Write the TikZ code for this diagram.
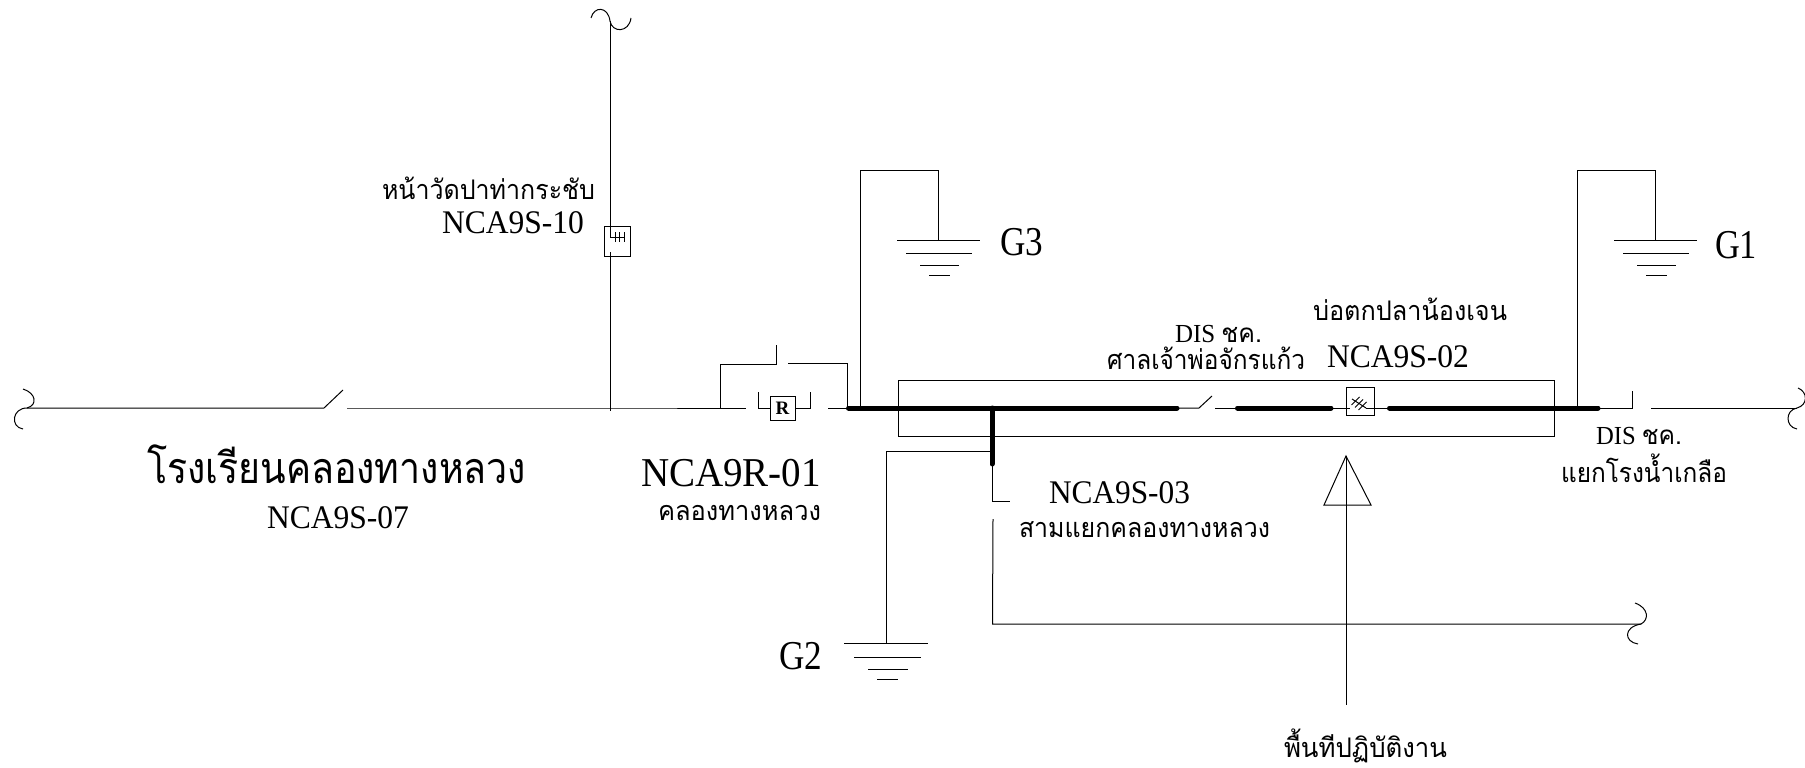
\documentclass[tikz,border=0pt]{standalone}
\usepackage{fontspec}
\usepackage{graphicx}
\setmainfont{Liberation Serif}
\newfontfamily\thaifont[Script=Thai]{Loma}
\newsavebox\fitbox
\newlength\fitlen
\newcommand\fitw[2]{\sbox\fitbox{#2}\setlength\fitlen{\wd\fitbox}\pgfmathsetmacro\fitr{#1/\fitlen}\scalebox{\fitr}[1]{\usebox\fitbox}}
\newcommand\lat[1]{\fontsize{#1}{#1}\selectfont}
\newcommand\tha[1]{\fontsize{#1}{#1}\selectfont\thaifont}
\tikzset{
  bus/.style={line width=5pt,draw=black,line cap=round},
  lbl/.style={inner sep=0pt,outer sep=0pt,anchor=base west,text=black},
}
\begin{document}
\begin{tikzpicture}[x=1pt,y=-1pt,every path/.style={line width=1pt}]
\useasboundingbox (0,0) rectangle (1805,768);
% long rectangle
\node[draw=black,line width=1pt,inner sep=0pt,minimum width=656pt,minimum height=56pt,anchor=north west] (frame) at (897.5,380) {};

% main feeder, left part
\coordinate (lend) at (27,408);
\coordinate (sw1a) at (324,408);
\coordinate (sw1b) at (343,390);
\coordinate (sw1c) at (347,408);
\coordinate (tapN) at (610,408);
\coordinate (rleft) at (746,408);
\draw (23,389) .. controls (36,393) and (38,405) .. (lend) .. controls (12,408) and (10,427) .. (23,429);
\draw (lend) -- (sw1a) -- (sw1b);
\draw (sw1c) -- (tapN) -- (rleft);

% north branch with sectionaliser
\coordinate (topN) at (610,21);
\node[draw=black,line width=1pt,inner sep=0pt,minimum width=26pt,minimum height=30pt,anchor=north west] (s10) at (603.5,226) {};
\coordinate (s10k) at (610,237);
\coordinate (s10e) at (625,237);
\coordinate (s10l) at (610,252);
\draw (591,18) .. controls (594,6) and (608,6) .. (topN) .. controls (612,33) and (629,33) .. (631,18);
\draw (topN) -- (s10k) -- (s10e);
\draw (615,232) -- (615,242) (619.5,232) -- (619.5,242) (624,232) -- (624,242);
\draw (s10l) -- (610,411);

% recloser and bypass
\node[draw=black,line width=1pt,inner sep=0pt,minimum width=25pt,minimum height=24pt,font=\lat{19}\bfseries] (R) at (782.5,408.5) {R};
\coordinate (busL) at (848.5,408);
\draw (720,408) -- (720,364) -- (776,364) -- (776,345);
\draw (788,363) -- (847,363) -- (847,408);
\draw (758,392) -- (758,408.5) -- (R.west);
\draw (R.east) -- (810,408.5) -- (810,392);
\draw (828,408) -- (busL);

% buses
\coordinate (busA) at (1177,408);
\coordinate (busB) at (1237.5,408);
\coordinate (busC) at (1331,408);
\coordinate (busD) at (1389.5,408);
\coordinate (busE) at (1598,408);
\coordinate (tee) at (992,408);
\coordinate (teeB) at (992,464);
\draw[bus] (busL) -- (busA);
\draw[bus] (busB) -- (busC);
\draw[bus] (busD) -- (busE);
\draw[bus] (tee) -- (teeB);

% bus switch
\draw (busA) -- (1199,408) -- (1212,396);
\draw (1215,408) -- (busB);

% NCA9S-02 device
\node[draw=black,line width=1pt,inner sep=0pt,minimum width=28pt,minimum height=28pt,anchor=north west] (s02) at (1346,387) {};
\coordinate (s02i) at (1350,408);
\coordinate (s02o) at (1366,408);
\draw (busC) -- (s02i);
\draw (1352,399) -- (s02o);
\draw (1351.5,405) -- (1359.5,397) (1355,407.5) -- (1363,399.5) (1358.5,410) -- (1366.5,402);
\draw (s02o) -- (busD);

% right end
\coordinate (rend) at (1797,408);
\draw (busE) -- (1632,408) -- (1632,391);
\draw (1651,408) -- (rend);
\draw (1798,388) .. controls (1808,392) and (1808,405) .. (rend) .. controls (1785,410) and (1785,427) .. (1797,429);

% G3
\coordinate (g3) at (938,240);
\draw (860.5,408) -- (860.5,170) -- (938,170) -- (g3);
\draw (897,240) -- (980,240) (906,253) -- (972,253) (920,265) -- (959,265) (929,275) -- (950,275);
% G1
\coordinate (g1) at (1655,240);
\draw (1577,408) -- (1577,170) -- (1655,170) -- (g1);
\draw (1614,240) -- (1697,240) (1623,253) -- (1689,253) (1637,265) -- (1676,265) (1646,275) -- (1667,275);
% G2
\coordinate (g2) at (886,643);
\draw (992,451) -- (886,451) -- (g2);
\draw (844,643) -- (928,643) (854,657) -- (921,657) (868,669) -- (908,669) (877,679) -- (898,679);

% NCA9S-03 branch
\coordinate (rb) at (1641,624);
\draw (teeB) -- (992,501) -- (1010,501);
\draw (993,519) -- (992.5,624) -- (rb);
\draw (1635,603) .. controls (1649,608) and (1649,620) .. (rb) .. controls (1623,627) and (1624,642) .. (1638,644);

% location arrow
\coordinate (ap) at (1346,456);
\draw (ap) -- (1371,505) -- (1324,505) -- cycle;
\draw (ap) -- (1346,705);

% labels
\node[lbl,font=\tha{27}] (t1) at (382,199) {\fitw{213}{หน้าวัดปาท่ากระชับ}};
\node[lbl,font=\lat{33}] (t2) at (442,233) {\fitw{142}{NCA9S-10}};
\node[lbl,font=\tha{43}] (t3) at (147,483) {\fitw{379}{โรงเรียนคลองทางหลวง}};
\node[lbl,font=\lat{33}] (t4) at (267,528) {\fitw{142}{NCA9S-07}};
\node[lbl,font=\lat{41}] (t5) at (641,486) {\fitw{180}{NCA9R-01}};
\node[lbl,font=\tha{27}] (t6) at (658,520) {\fitw{163}{คลองทางหลวง}};
\node[lbl,font=\lat{26}] (t7) at (1175,342) {\fitw{87}{DIS {\tha{26}ชค.}}};
\node[lbl,font=\tha{27}] (t8) at (1107,369) {\fitw{198}{ศาลเจ้าพ่อจักรแก้ว}};
\node[lbl,font=\tha{27}] (t9) at (1313,320) {\fitw{194}{บ่อตกปลาน้องเจน}};
\node[lbl,font=\lat{33}] (t10) at (1327,367.5) {\fitw{142}{NCA9S-02}};
\node[lbl,font=\lat{26}] (t11) at (1596,444) {\fitw{86}{DIS {\tha{26}ชค.}}};
\node[lbl,font=\tha{27}] (t12) at (1561,482) {\fitw{166}{แยกโรงน้ำเกลือ}};
\node[lbl,font=\lat{41}] (g1l) at (1715,258) {\fitw{42}{G1}};
\node[lbl,font=\lat{41}] (g3l) at (1000,255) {\fitw{43}{G3}};
\node[lbl,font=\lat{41}] (g2l) at (779,669) {\fitw{43}{G2}};
\node[lbl,font=\lat{33}] (t13) at (1049,503) {\fitw{141}{NCA9S-03}};
\node[lbl,font=\tha{27}] (t14) at (1019,537) {\fitw{251}{สามแยกคลองทางหลวง}};
\node[lbl,font=\tha{27}] (t15) at (1284,757) {\fitw{163}{พื้นทีปฏิบัติงาน}};
\end{tikzpicture}
\end{document}
